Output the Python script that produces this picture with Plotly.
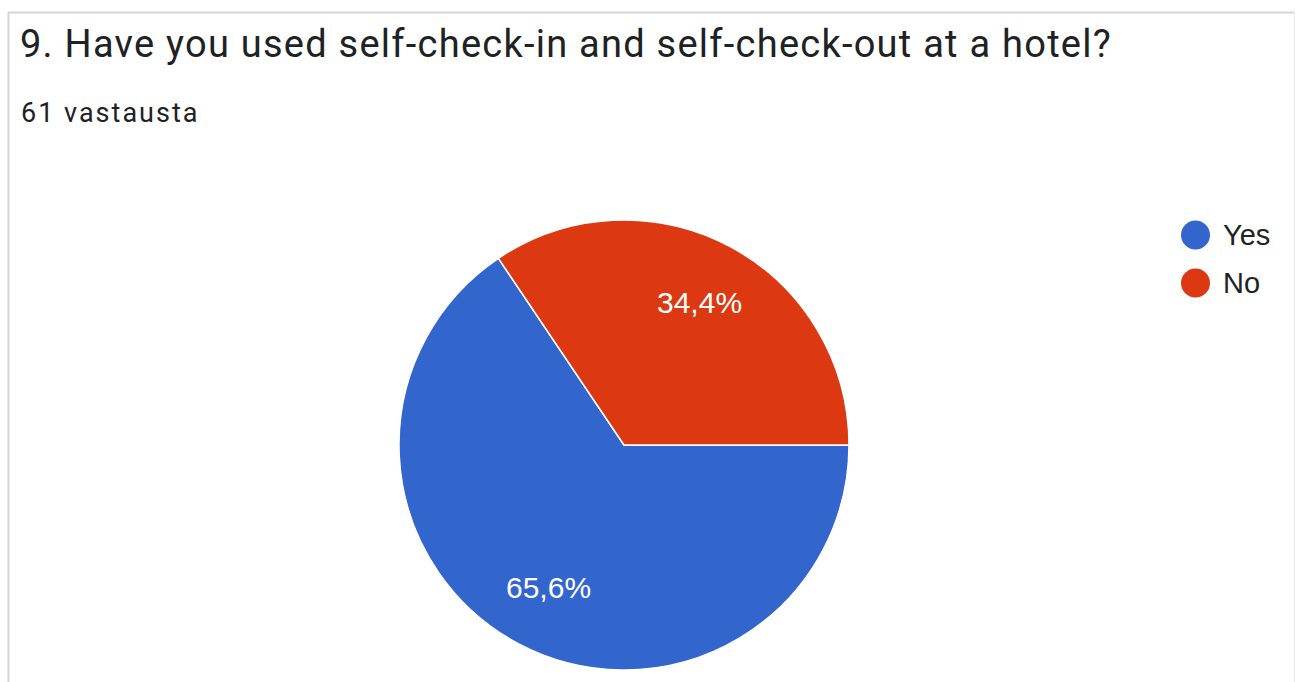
import math
import plotly.graph_objects as go

# Survey answers
labels = ["Yes", "No"]
counts = [40, 21]
colors = ["#3366CC", "#DC3912"]
title_text = "9. Have you used self-check-in and self-check-out at a hotel?"
subtitle_text = "61 vastausta"

W, H = 1296, 682

def px(x):
    return x / W

def py(y):
    return 1 - y / H

# Pie geometry (pixels)
cx, cy, r = 624, 445, 225

fig = go.Figure()
fig.add_trace(go.Pie(
    labels=labels,
    values=counts,
    sort=False,
    direction="clockwise",
    rotation=90,
    marker=dict(colors=colors, line=dict(color="white", width=1.5)),
    textinfo="none",
    hoverinfo="label+percent",
    showlegend=False,
    domain=dict(x=[px(cx - r), px(cx + r)], y=[py(cy + r), py(cy - r)]),
))

total = sum(counts)
annotations = []
shapes = []
chart_font = "Liberation Sans, Arial, sans-serif"

# Percentage labels placed at the middle angle of each slice
start = 0.0  # degrees clockwise from 3 o'clock
for lab, val in zip(labels, counts):
    frac = val / total
    mid = start + frac * 360 / 2
    start += frac * 360
    a = math.radians(mid)
    lx = cx + 0.715 * r * math.cos(a)
    ly = cy + 0.715 * r * math.sin(a)
    txt = f"{frac * 100:.1f}%".replace(".", ",")
    annotations.append(dict(
        x=px(lx), y=py(ly), xref="paper", yref="paper",
        text=txt, showarrow=False, xanchor="center", yanchor="middle",
        font=dict(family=chart_font, size=30, color="white"),
    ))

# Legend with round markers
for i, (lab, col) in enumerate(zip(labels, colors)):
    yc = 235 + i * 48
    shapes.append(dict(
        type="circle", xref="paper", yref="paper",
        x0=px(1181), x1=px(1210), y0=py(yc + 14.5), y1=py(yc - 14.5),
        fillcolor=col, line=dict(width=0),
    ))
    annotations.append(dict(
        x=px(1221), y=py(yc), xref="paper", yref="paper",
        text=lab, showarrow=False, xanchor="left", yanchor="middle",
        font=dict(family=chart_font, size=29, color="#222222"),
    ))

# Title and response count
annotations.append(dict(
    x=px(18), y=py(44), xref="paper", yref="paper",
    text=f"<span style='letter-spacing:1.25px'>{title_text}</span>",
    showarrow=False, xanchor="left", yanchor="middle",
    font=dict(family="Roboto", size=38, color="#202124"),
))
annotations.append(dict(
    x=px(19), y=py(113), xref="paper", yref="paper",
    text=f"<span style='letter-spacing:2px'>{subtitle_text}</span>",
    showarrow=False, xanchor="left", yanchor="middle",
    font=dict(family="Roboto", size=27, color="#202124"),
))

# Card frame (top, left, right edges)
frame = "#d6d6d6"
shapes.append(dict(type="line", xref="paper", yref="paper",
                   x0=px(8), x1=px(1294), y0=py(12.5), y1=py(12.5),
                   line=dict(color=frame, width=2)))
shapes.append(dict(type="line", xref="paper", yref="paper",
                   x0=px(8.5), x1=px(8.5), y0=py(12), y1=py(H + 2),
                   line=dict(color=frame, width=2)))
shapes.append(dict(type="line", xref="paper", yref="paper",
                   x0=px(1294.5), x1=px(1294.5), y0=py(12), y1=py(H + 2),
                   line=dict(color="#e6e6e6", width=1)))

fig.update_layout(
    width=W, height=H,
    margin=dict(l=0, r=0, t=0, b=0),
    paper_bgcolor="white", plot_bgcolor="white",
    annotations=annotations,
    shapes=shapes,
)

fig.write_html("out.html")
